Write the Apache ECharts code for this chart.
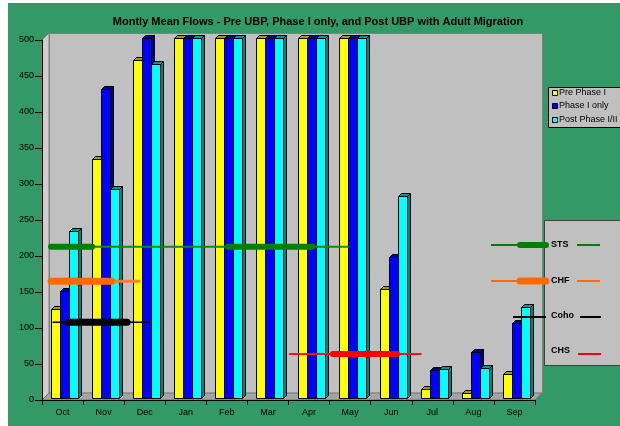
<!DOCTYPE html>
<html>
<head>
<meta charset="utf-8">
<script src="https://cdn.jsdelivr.net/npm/echarts@6/dist/echarts.min.js"></script>
<style>
  html, body { margin: 0; padding: 0; background: #fff; }
  #chart { width: 620px; height: 426px; }
</style>
</head>
<body>
<div id="chart"></div>
<script>
// Monthly mean flows by period
const months = ['Oct', 'Nov', 'Dec', 'Jan', 'Feb', 'Mar', 'Apr', 'May', 'Jun', 'Jul', 'Aug', 'Sep'];
const prePhaseI = [123, 332, 470, 500, 500, 500, 500, 500, 152, 12, 7, 34];
const phaseIOnly = [148, 429, 500, 500, 500, 500, 500, 500, 196, 39, 64, 104];
const postPhaseIII = [232, 290, 464, 500, 500, 500, 500, 500, 280, 40, 41, 127];
const seriesNames = ['Pre Phase I', 'Phase I only', 'Post Phase I/II'];
const yMax = 500;
const yStep = 50;

// Adult migration windows: level on the flow axis, full period and peak period(s), in month units from 1 Oct
const stsLevel = 213, stsPeriod = [0.22, 7.45], stsPeaks = [[0.22, 1.22], [4.53, 6.59]];
const chfLevel = 165, chfPeriod = [0.22, 2.36], chfPeaks = [[0.22, 1.70]];
const cohoLevel = 108, cohoPeriod = [0.27, 2.60], cohoPeaks = [[0.63, 2.07]];
const chsLevel = 64, chsPeriod = [6.03, 9.22], chsPeaks = [[7.08, 8.64]];

const FONT = 'Liberation Sans, Arial, sans-serif';
const DEPTH = 7;      // depth of the plot box
const BAR_W = 9;      // width of one bar face
const BAR_D = 3;      // depth of one bar
const BAR_SHIFT = 2;  // bars sit slightly inside the box

const barColors = [
  { front: '#ffff00', top: '#a0a000', side: '#808000' },
  { front: '#0000ff', top: '#000099', side: '#000080' },
  { front: '#00ffff', top: '#009999', side: '#008080' }
];

function bar3d(idx, values) {
  const c = barColors[idx];
  return {
    name: seriesNames[idx],
    type: 'custom',
    coordinateSystem: 'cartesian2d',
    xAxisIndex: 0, yAxisIndex: 0,
    z: 2,
    clip: false,
    silent: true,
    data: values.map((v, i) => [i, v]),
    renderItem: function (params, api) {
      const i = api.value(0);
      const v = Math.min(api.value(1), yMax);
      const base = api.coord([i, 0]);
      const top = api.coord([i, v]);
      const x0 = Math.round(base[0] - 1.5 * BAR_W + idx * BAR_W + BAR_SHIFT) + 0.5;
      const yb = Math.round(base[1] - BAR_SHIFT) + 0.5;
      const yt = Math.round(top[1] - BAR_SHIFT) + 0.5;
      const x1 = x0 + BAR_W, d = BAR_D;
      const st = { stroke: '#000', lineWidth: 1 };
      return {
        type: 'group',
        children: [
          { type: 'polygon', shape: { points: [[x1, yt], [x1 + d, yt - d], [x1 + d, yb - d], [x1, yb]] },
            style: Object.assign({ fill: c.side }, st) },
          { type: 'polygon', shape: { points: [[x0, yt], [x0 + d, yt - d], [x1 + d, yt - d], [x1, yt]] },
            style: Object.assign({ fill: c.top }, st) },
          { type: 'rect', shape: { x: x0, y: yt, width: BAR_W, height: yb - yt },
            style: Object.assign({ fill: c.front }, st) }
        ]
      };
    }
  };
}

// Back wall, left wall and floor of the plot box
const boxSeries = {
  type: 'custom',
  coordinateSystem: 'cartesian2d',
  xAxisIndex: 0, yAxisIndex: 0,
  z: 1,
  clip: false,
  silent: true,
  data: [[0, 0]],
  renderItem: function (params) {
    const cs = params.coordSys;
    const l = cs.x, t = cs.y, r = cs.x + cs.width, b = cs.y + cs.height, d = DEPTH;
    return {
      type: 'group',
      children: [
        { type: 'rect', shape: { x: l + d + 0.5, y: t - d + 0.5, width: cs.width, height: cs.height },
          style: { fill: '#c0c0c0', stroke: '#808080', lineWidth: 1 } },
        { type: 'polygon', shape: { points: [[l, t], [l + d, t - d], [l + d, b - d], [l, b]] },
          style: { fill: '#cfcfcf', stroke: '#808080', lineWidth: 1 } },
        { type: 'polygon', shape: { points: [[l, b], [l + d, b - d], [r + d, b - d], [r, b]] },
          style: { fill: '#a4a4a4', stroke: '#707070', lineWidth: 1 } }
      ]
    };
  }
};

function segment(level, range, width, color) {
  return {
    type: 'line',
    xAxisIndex: 1, yAxisIndex: 0,
    z: 4,
    silent: true,
    symbol: 'none',
    data: [[range[0], level], [range[1], level]],
    lineStyle: { width: width, color: color, cap: 'round' }
  };
}

function migration(level, period, peaks, color, thinColor, thinW, thickW) {
  const out = [segment(level, period, thinW, thinColor)];
  peaks.forEach(p => out.push(segment(level, p, thickW, color)));
  return out;
}

const series = [boxSeries, bar3d(0, prePhaseI), bar3d(1, phaseIOnly), bar3d(2, postPhaseIII)]
  .concat(migration(stsLevel, stsPeriod, stsPeaks, '#008000', '#128a12', 2, 6))
  .concat(migration(chfLevel, chfPeriod, chfPeaks, '#ff6a00', '#ff7f2a', 3, 7))
  .concat(migration(cohoLevel, cohoPeriod, cohoPeaks, '#000000', '#000000', 1.5, 7))
  .concat(migration(chsLevel, chsPeriod, chsPeaks, '#ff0000', '#ff1010', 2, 6));

// Legend graphics
const legendItems = [];
legendItems.push({ type: 'rect', shape: { x: 548.5, y: 87.5, width: 80, height: 40 },
  style: { fill: '#c0c0c0', stroke: '#000', lineWidth: 1 }, z: 100 });
seriesNames.forEach((n, i) => {
  const cy = 92.5 + i * 13.3;
  legendItems.push({ type: 'rect', shape: { x: 552.5, y: Math.round(cy - 2.5) + 0.5, width: 5, height: 5 },
    style: { fill: barColors[i].front, stroke: '#000', lineWidth: 1 }, z: 101 });
  legendItems.push({ type: 'text', x: 559, y: cy, style: { text: n, fill: '#000', font: '9px ' + FONT,
    verticalAlign: 'middle', align: 'left' }, z: 101 });
});

legendItems.push({ type: 'rect', shape: { x: 544.5, y: 220.5, width: 80, height: 145 },
  style: { fill: '#c0c0c0', stroke: '#404040', lineWidth: 1 }, z: 100 });
const keys = [
  { name: 'STS', y: 245, color: '#008000', thin: [491, 520, 2], thick: [520, 546, 6], right: [577, 600] },
  { name: 'CHF', y: 281, color: '#ff6a00', thin: [491, 520, 2], thick: [520, 546, 7], right: [577, 600] },
  { name: 'Coho', y: 316, color: '#000000', thin: [513, 546, 2], thick: null, right: [580, 601] },
  { name: 'CHS', y: 351, color: '#ff0000', thin: null, thick: null, right: [578, 601], ry: 354 }
];
keys.forEach(k => {
  const ly = k.name === 'Coho' ? 317 : (k.ry || k.y);
  if (k.thin) legendItems.push({ type: 'line', shape: { x1: k.thin[0], y1: ly, x2: k.thin[1], y2: ly },
    style: { stroke: k.color, lineWidth: k.thin[2] }, z: 102 });
  if (k.thick) legendItems.push({ type: 'line', shape: { x1: k.thick[0], y1: ly, x2: k.thick[1], y2: ly },
    style: { stroke: k.color, lineWidth: k.thick[2], lineCap: 'round' }, z: 102 });
  legendItems.push({ type: 'line', shape: { x1: k.right[0], y1: ly, x2: k.right[1], y2: ly },
    style: { stroke: k.color, lineWidth: 2 }, z: 102 });
  legendItems.push({ type: 'text', x: 551, y: k.y, style: { text: k.name, fill: '#000',
    font: 'bold 9px ' + FONT, verticalAlign: 'middle', align: 'left' }, z: 102 });
});

const chart = echarts.init(document.getElementById('chart'), null, { renderer: 'canvas' });
chart.setOption({
  animation: false,
  backgroundColor: '#339966',
  grid: { left: 42, right: 85, top: 40, bottom: 26 },
  xAxis: [
    {
      type: 'category', data: months, boundaryGap: true, z: 5,
      axisLine: { show: true, lineStyle: { color: '#000', width: 1 } },
      axisTick: { show: true, length: 5, lineStyle: { color: '#000' } },
      axisLabel: { color: '#000', fontSize: 9, fontFamily: FONT, margin: 8 },
      splitLine: { show: false }
    },
    { type: 'value', min: 0, max: 12, show: false, splitLine: { show: false } }
  ],
  yAxis: {
    type: 'value', min: 0, max: yMax, interval: yStep, z: 5,
    axisLine: { show: true, lineStyle: { color: '#000', width: 1 } },
    axisTick: { show: true, length: 7, lineStyle: { color: '#000' } },
    axisLabel: { color: '#000', fontSize: 9, fontFamily: FONT, margin: 8 },
    splitLine: { show: false }
  },
  series: series,
  graphic: [
    { type: 'rect', shape: { x: 0, y: 0, width: 8, height: 426 }, style: { fill: '#fff' }, z: -10 },
    { type: 'rect', shape: { x: 0, y: 0, width: 620, height: 3 }, style: { fill: '#fff' }, z: -10 },
    { type: 'text', x: 318, y: 21.5, style: { text: 'Montly Mean Flows - Pre UBP, Phase I only, and Post UBP with Adult Migration',
      fill: '#000', font: 'bold 11px ' + FONT, align: 'center', verticalAlign: 'middle' } }
  ].concat(legendItems)
});
</script>
</body>
</html>
